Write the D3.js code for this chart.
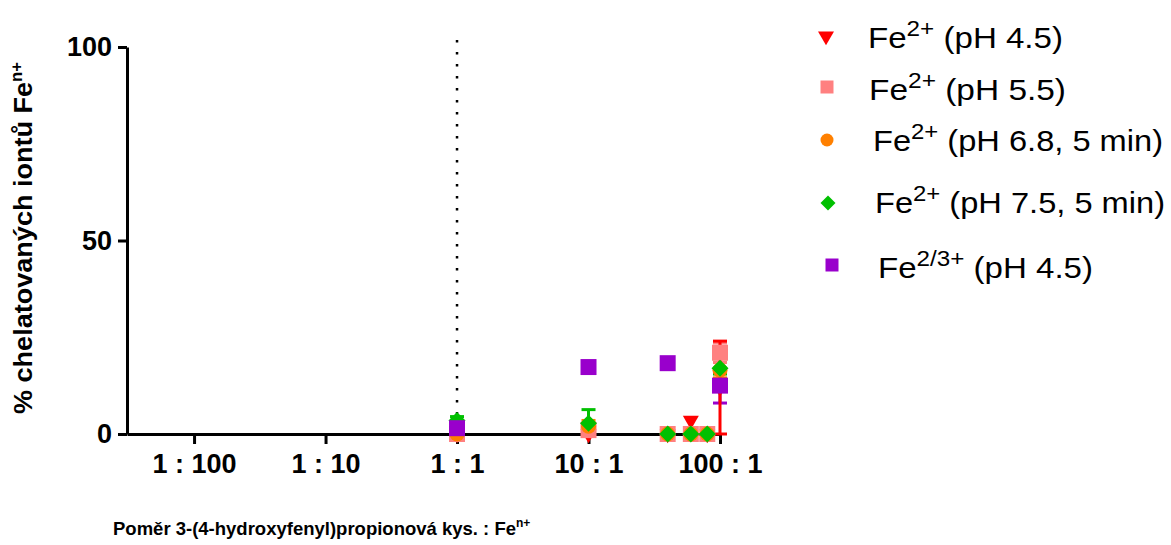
<!DOCTYPE html>
<html>
<head>
<meta charset="utf-8">
<script src="https://cdn.jsdelivr.net/npm/d3@7"></script>
<style>
  html, body { margin: 0; padding: 0; background: #fff; }
  svg { display: block; }
  text { font-family: Arial, "Liberation Sans", sans-serif; fill: #000; }
</style>
</head>
<body>
<svg id="chart" width="1171" height="545"></svg>
<script>
// Molar ratio acid : Fe (log axis) and tick labels
const ratioTicks = [0.01, 0.1, 1, 10, 100];
const ratioLabels = ["1 : 100", "1 : 10", "1 : 1", "10 : 1", "100 : 1"];
const pctTicks = [0, 50, 100];

// Ratios measured for the Fe2+ series and for the Fe2/3+ series
const ratiosFe2 = [1, 10, 40, 60, 80, 100];
const ratiosFe23 = [1, 10, 40, 100];

// % chelated ions (mean) and SD per series
const fe2pH45 = [0, 0, 0, 3.5, 0, 12];
const fe2pH45Sd = [0, 0, 0, 0, 0, 12];
const fe2pH55 = [0, 1, 0, 0, 0, 21];
const fe2pH55Sd = [0, 0.8, 0, 0, 0, 2.5];
const fe2pH68 = [0, 2, 0, 0, 0, 16.5];
const fe2pH68Sd = [0.6, 1.5, 0, 0, 0, 2];
const fe2pH75 = [3.5, 2.8, 0, 0, 0, 17];
const fe2pH75Sd = [1, 3.5, 0, 0, 0, 1.5];
const fe23pH45 = [1.5, 17.3, 18.3, 12.5];
const fe23pH45Sd = [1.2, 0, 1, 4.5];

const seriesNames = [
  { ion: "Fe", charge: "2+", cond: " (pH 4.5)" },
  { ion: "Fe", charge: "2+", cond: " (pH 5.5)" },
  { ion: "Fe", charge: "2+", cond: " (pH 6.8, 5 min)" },
  { ion: "Fe", charge: "2+", cond: " (pH 7.5, 5 min)" },
  { ion: "Fe", charge: "2/3+", cond: " (pH 4.5)" }
];

const series = [
  { x: ratiosFe2, y: fe2pH45, sd: fe2pH45Sd, color: "#ff0000", shape: "triDown" },
  { x: ratiosFe2, y: fe2pH55, sd: fe2pH55Sd, color: "#ff8080", shape: "square" },
  { x: ratiosFe2, y: fe2pH68, sd: fe2pH68Sd, color: "#ff8000", shape: "circle" },
  { x: ratiosFe2, y: fe2pH75, sd: fe2pH75Sd, color: "#00c000", shape: "diamond" },
  { x: ratiosFe23, y: fe23pH45, sd: fe23pH45Sd, color: "#9900cc", shape: "square" }
];

const FONT = "Arial, 'Liberation Sans', sans-serif";
const svg = d3.select("#chart");

const x = d3.scaleLog().domain([Math.pow(10, -2.51), 100]).range([127, 720]);
const y = d3.scaleLinear().domain([0, 100]).range([434, 47]);

// marker generator
function symbolPath(shape, s) {
  if (shape === "square") return d3.symbol(d3.symbolSquare, s * s)();
  if (shape === "circle") return d3.symbol(d3.symbolCircle, Math.PI * (s / 2) * (s / 2))();
  if (shape === "diamond") return d3.symbol(d3.symbolSquare, (s / Math.SQRT2) * (s / Math.SQRT2))();
  if (shape === "triDown") return d3.symbol(d3.symbolTriangle, s * s * Math.sqrt(3) / 4)();
}
function symbolRotate(shape) {
  if (shape === "diamond") return " rotate(45)";
  if (shape === "triDown") return " rotate(180)";
  return "";
}
function markerSize(shape) {
  return shape === "circle" ? 15 : (shape === "diamond" ? 17 : 16);
}

// axes
const yAxis = svg.append("g")
  .attr("transform", "translate(127,0)")
  .call(d3.axisLeft(y).tickValues(pctTicks).tickSize(9).tickSizeOuter(0).tickPadding(6));
yAxis.select(".domain").attr("stroke-width", 3);
yAxis.selectAll(".tick line").attr("stroke-width", 3);
yAxis.selectAll(".tick text")
  .attr("font-size", 27).attr("font-weight", "bold")
  .attr("font-family", FONT).attr("fill", "#000");

const xAxis = svg.append("g")
  .attr("transform", "translate(0,434)")
  .call(d3.axisBottom(x).tickValues(ratioTicks)
    .tickFormat((d, i) => ratioLabels[i]).tickSize(10).tickSizeOuter(0).tickPadding(10));
xAxis.select(".domain").attr("stroke-width", 3);
xAxis.selectAll(".tick line").attr("stroke-width", 3);
xAxis.selectAll(".tick text")
  .attr("font-size", 27).attr("font-weight", "bold")
  .attr("font-family", FONT).attr("fill", "#000");

// dotted reference line at 1 : 1
svg.append("line")
  .attr("x1", x(1)).attr("x2", x(1))
  .attr("y1", 40).attr("y2", y(0))
  .attr("stroke", "#000").attr("stroke-width", 2.5)
  .attr("stroke-dasharray", "2.5,9.5");

// error bars first (last series underneath), then markers on top
const bars = svg.append("g");
series.slice().reverse().forEach(s => {
  s.x.forEach((xv, i) => {
    const cx = x(xv), mean = s.y[i], sd = s.sd[i];
    if (sd <= 0) return;
    const top = y(mean + sd), bot = y(Math.max(mean - sd, 0));
    bars.append("line").attr("x1", cx).attr("x2", cx).attr("y1", top).attr("y2", bot)
      .attr("stroke", s.color).attr("stroke-width", 3);
    [top, bot].forEach(yy => bars.append("line")
      .attr("x1", cx - 7).attr("x2", cx + 7).attr("y1", yy).attr("y2", yy)
      .attr("stroke", s.color).attr("stroke-width", 3));
  });
});
const marks = svg.append("g");
series.forEach(s => {
  s.x.forEach((xv, i) => {
    marks.append("path")
      .attr("d", symbolPath(s.shape, markerSize(s.shape)))
      .attr("transform", `translate(${x(xv)},${y(s.y[i])})` + symbolRotate(s.shape))
      .attr("fill", s.color);
  });
});

// axis titles
const yTitle = svg.append("text")
  .attr("transform", "translate(32,238) rotate(-90)")
  .attr("text-anchor", "middle")
  .attr("font-size", 26).attr("font-weight", "bold")
  .attr("textLength", 352).attr("lengthAdjust", "spacingAndGlyphs");
yTitle.append("tspan").text("% chelatovaných iontů Fe");
yTitle.append("tspan").attr("font-size", 16).attr("dy", -10).text("n+");

const xTitle = svg.append("text")
  .attr("x", 113).attr("y", 535)
  .attr("font-size", 18.5).attr("font-weight", "bold");
xTitle.append("tspan").text("Poměr 3-(4-hydroxyfenyl)propionová kys. : Fe");
xTitle.append("tspan").attr("font-size", 12).attr("dy", -8).text("n+");

// legend
const legendRows = [
  { mx: 826, my: 36, tx: 868, ty: 48, w: 195 },
  { mx: 827, my: 87, tx: 869, ty: 100, w: 197 },
  { mx: 827, my: 140, tx: 873, ty: 151, w: 290 },
  { mx: 828, my: 203, tx: 875, ty: 213, w: 290 },
  { mx: 832, my: 265, tx: 878, ty: 278, w: 215 }
];
const legend = svg.append("g");
series.forEach((s, i) => {
  const r = legendRows[i];
  legend.append("path")
    .attr("d", symbolPath(s.shape, s.shape === "circle" ? 13 : (s.shape === "diamond" ? 15 : (s.shape === "triDown" ? 16 : 13))))
    .attr("transform", `translate(${r.mx},${r.my})` + symbolRotate(s.shape))
    .attr("fill", s.color);
  const t = legend.append("text").attr("x", r.tx).attr("y", r.ty).attr("font-size", 30)
    .attr("fill", "#222")
    .attr("textLength", r.w).attr("lengthAdjust", "spacingAndGlyphs");
  t.append("tspan").text(seriesNames[i].ion);
  t.append("tspan").attr("font-size", 22).attr("dy", -12).text(seriesNames[i].charge);
  t.append("tspan").attr("dy", 12).text(seriesNames[i].cond);
});
</script>
</body>
</html>
